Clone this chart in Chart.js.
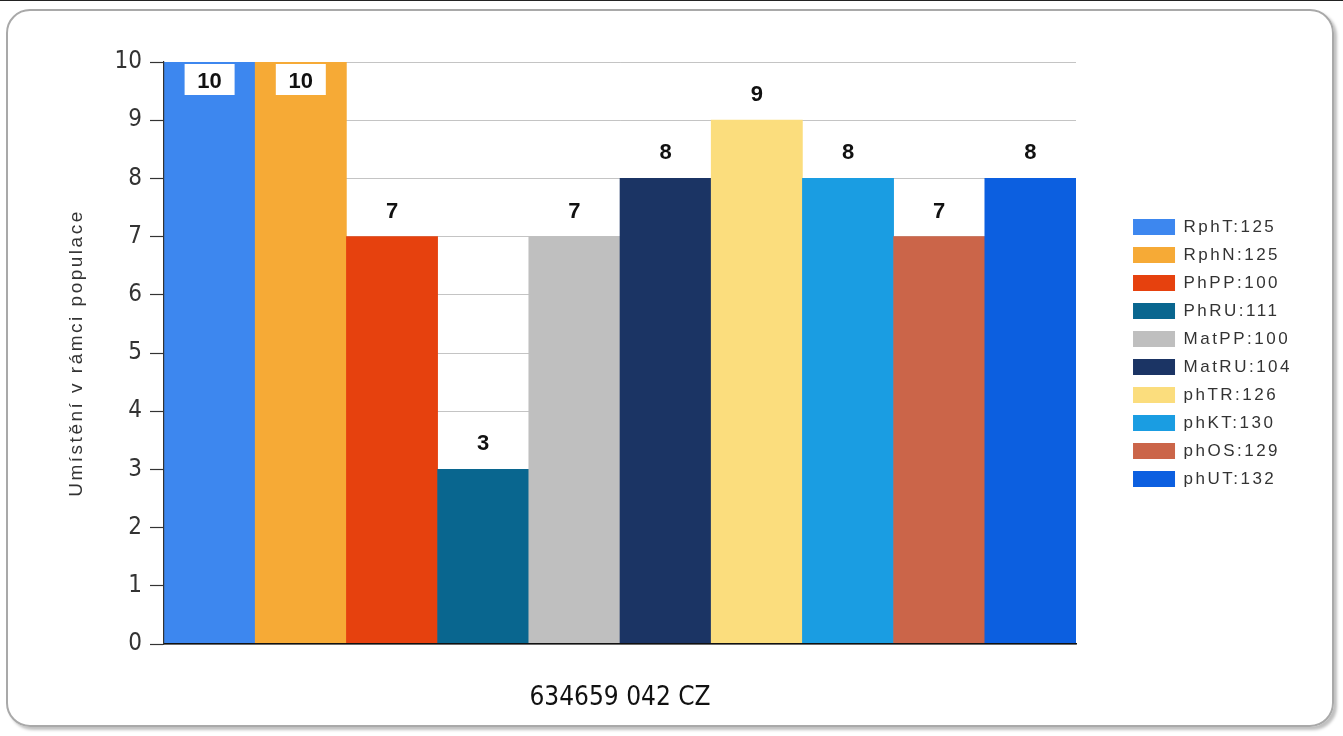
<!DOCTYPE html>
<html>
<head>
<meta charset="utf-8">
<script src="https://cdn.jsdelivr.net/npm/chart.js@4/dist/chart.umd.min.js"></script>
<style>
    html, body { margin: 0; padding: 0; background: #fff; }
    #wrap { position: relative; width: 1343px; height: 736px; overflow: hidden; }
    #topline { position: absolute; left: 0; top: 0; width: 1343px; height: 1px; background: #222; }
    #frame {
        position: absolute; left: 6px; top: 9px; width: 1324px; height: 714px;
        border: 2px solid #a9a9a9; border-radius: 24px;
        box-shadow: 3px 3px 3px rgba(0, 0, 0, 0.25);
    }
    #grafico { position: absolute; left: 0; top: 0; }
</style>
</head>
<body>
<div id="wrap">
    <div id="topline"></div>
    <div id="frame"></div>
    <canvas id="grafico" width="1343" height="736"></canvas>
</div>
<script>
// dados
const kategorie = ['RphT', 'RphN', 'PhPP', 'PhRU', 'MatPP', 'MatRU', 'phTR', 'phKT', 'phOS', 'phUT'];
const skore = [125, 125, 100, 111, 100, 104, 126, 130, 129, 132];
const umisteni = [10, 10, 7, 3, 7, 8, 9, 8, 7, 8];
const barvy = ['#3d87ef', '#f6aa36', '#e6410e', '#09668f', '#bfbfbf', '#1b3464', '#fbdd7d', '#1a9de2', '#cb6549', '#0c5fe0'];
const osaYTicks = [0, 1, 2, 3, 4, 5, 6, 7, 8, 9, 10];

const nazevOsyY = 'Umístění v rámci populace';
const nazevOsyX = '634659 042 CZ';

const fonteEstreita = "'Liberation Sans Narrow', 'DejaVu Sans Condensed', 'Liberation Sans', Arial, sans-serif";
const fonteNormal = "'Liberation Sans', Arial, sans-serif";
const ESPACO = '2.5px';

// espaçamento de letras só para legenda e título do eixo Y
const espacamento = {
    id: 'espacamento',
    beforeLayout(chart) { chart.ctx.letterSpacing = ESPACO; },
    afterLayout(chart) { chart.ctx.letterSpacing = '0px'; },
    beforeDraw(chart) { chart.ctx.letterSpacing = ESPACO; },
    beforeDatasetsDraw(chart) { chart.ctx.letterSpacing = '0px'; }
};

const rotulos = {
    id: 'rotulos',
    afterDatasetsDraw(chart) {
        const ctx = chart.ctx;
        const meta = chart.getDatasetMeta(0);
        ctx.save();
        ctx.font = 'bold 22px ' + fonteNormal;
        ctx.textAlign = 'center';
        ctx.textBaseline = 'middle';
        meta.data.forEach((bar, i) => {
            const v = umisteni[i];
            if (v >= 10) {
                ctx.fillStyle = '#ffffff';
                ctx.fillRect(bar.x - 25, bar.y + 2, 50, 31);
                ctx.fillStyle = '#111';
                ctx.fillText(String(v), bar.x, bar.y + 20);
            } else {
                ctx.fillStyle = '#111';
                ctx.fillText(String(v), bar.x, bar.y - 25);
            }
        });
        ctx.restore();
    }
};

const grafico = new Chart(document.getElementById('grafico').getContext('2d'), {
    type: 'bar',
    data: {
        labels: kategorie,
        datasets: [{
            data: umisteni,
            backgroundColor: barvy,
            borderWidth: 0,
            barPercentage: 1,
            categoryPercentage: 1
        }]
    },
    options: {
        responsive: false,
        animation: false,
        layout: { padding: { left: 0, top: 62, right: 41, bottom: 0 } },
        plugins: {
            tooltip: { enabled: false },
            legend: {
                position: 'right',
                fullSize: false,
                align: 'center',
                labels: {
                    boxWidth: 42,
                    boxHeight: 16,
                    padding: 11,
                    color: '#333',
                    font: { family: fonteNormal, size: 17 },
                    generateLabels: () => kategorie.map((k, i) => ({
                        text: k + ':' + skore[i],
                        fillStyle: barvy[i],
                        strokeStyle: barvy[i],
                        lineWidth: 0,
                        fontColor: '#333',
                        index: i
                    }))
                }
            }
        },
        scales: {
            x: {
                grid: { display: false, drawTicks: false, z: 1 },
                border: { display: true, color: '#111', width: 1.5, z: 1 },
                ticks: { display: false },
                title: {
                    display: true,
                    text: nazevOsyX,
                    color: '#111',
                    font: { family: fonteEstreita, size: 26 },
                    padding: { top: 0, bottom: 22 }
                },
                afterFit: s => { s.height = 92; }
            },
            y: {
                min: 0,
                max: 10,
                afterBuildTicks: s => { s.ticks = osaYTicks.map(v => ({ value: v })); },
                grid: { color: '#c4c4c4', lineWidth: 1, tickColor: '#333', tickLength: 14, tickWidth: 1.2 },
                border: { display: true, color: '#333', width: 1.2, z: 1 },
                ticks: {
                    color: '#333',
                    padding: 8,
                    z: 1,
                    font: { family: fonteEstreita, size: 24 }
                },
                title: {
                    display: true,
                    text: nazevOsyY,
                    color: '#333',
                    font: { family: fonteNormal, size: 19 },
                    padding: { top: 65, bottom: 0 }
                },
                afterFit: s => { s.width = 164; }
            },
            mezera: {
                position: 'right',
                display: true,
                grid: { display: false, drawTicks: false },
                border: { display: false },
                ticks: { display: false },
                afterFit: s => { s.width = 46; }
            }
        }
    },
    plugins: [espacamento, rotulos]
});
</script>
</body>
</html>
